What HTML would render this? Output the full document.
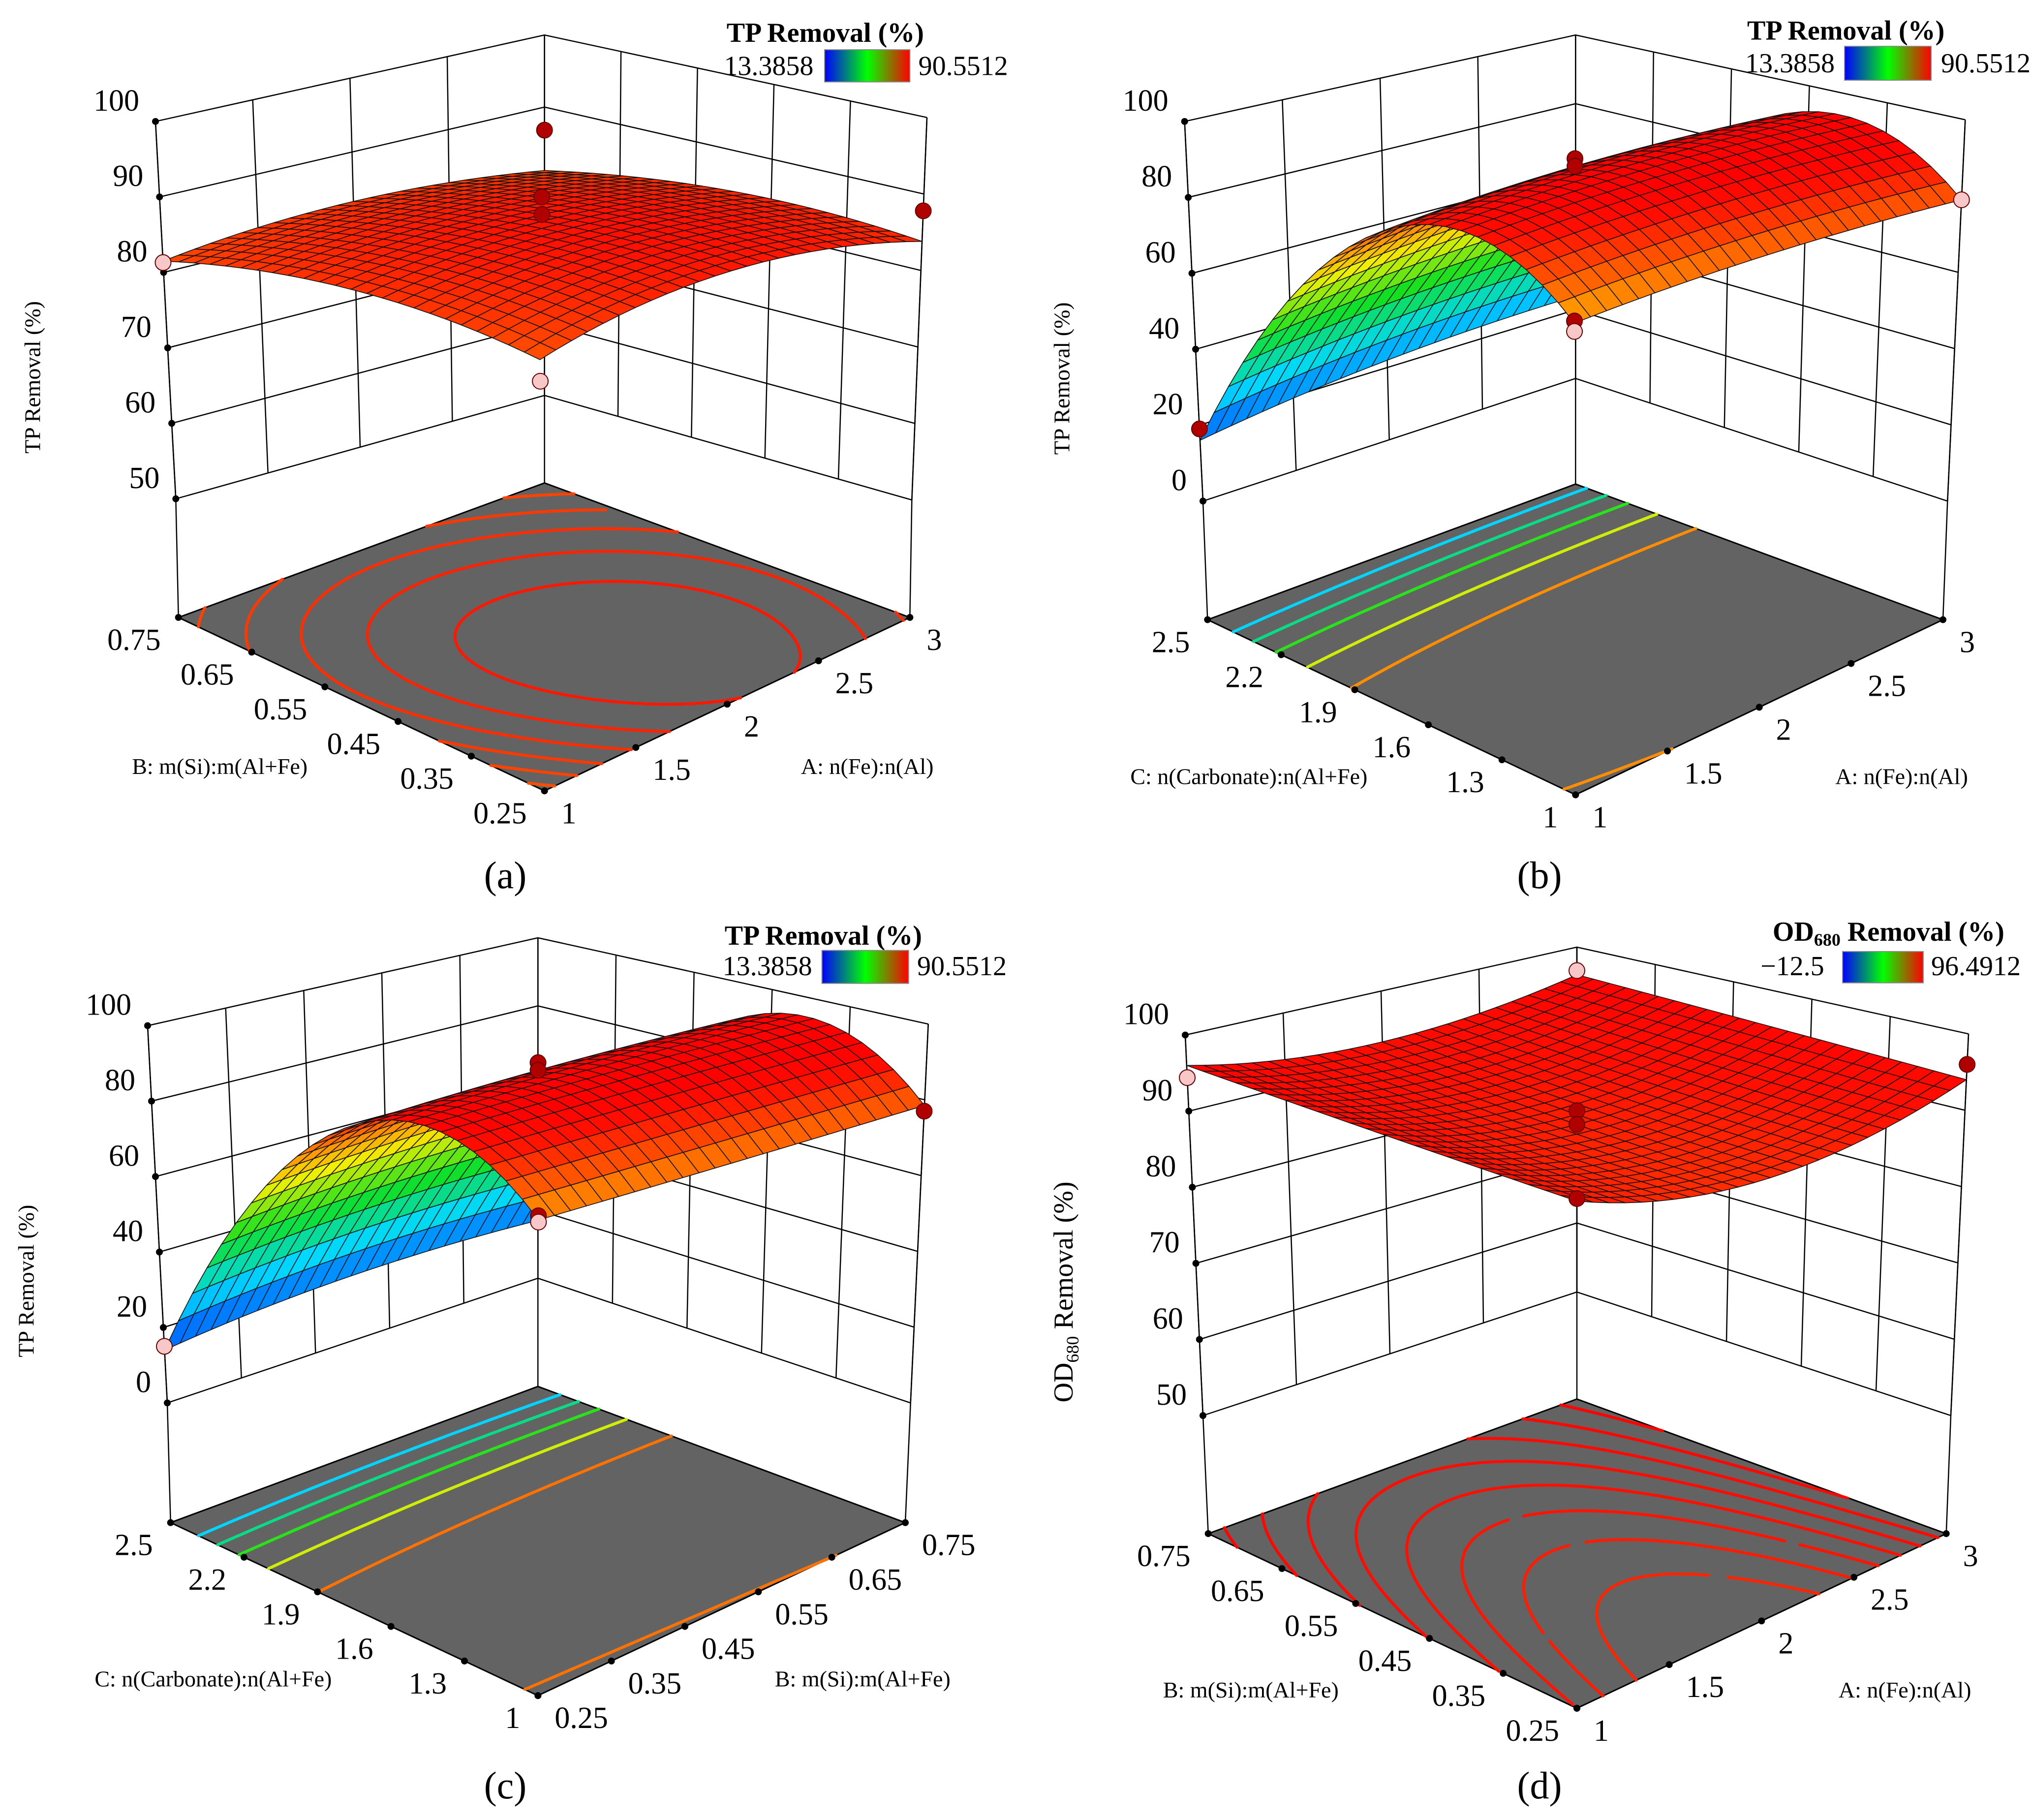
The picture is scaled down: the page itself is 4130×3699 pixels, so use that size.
<!DOCTYPE html>
<html><head><meta charset="utf-8"><title>Response surfaces</title>
<style>
html,body{margin:0;padding:0;background:#fff;}
svg{display:block;}
text{font-family:"Liberation Serif",serif;fill:#000;}
</style></head>
<body>
<svg id="chart" xmlns="http://www.w3.org/2000/svg" width="4130" height="3699" viewBox="0 0 4130 3699">
<defs>
<linearGradient id="cbar" x1="0" y1="0" x2="1" y2="0">
<stop offset="0" stop-color="#0000ff"/><stop offset="0.5" stop-color="#00ff00"/><stop offset="1" stop-color="#ff0000"/>
</linearGradient>
</defs>
<rect width="4130" height="3699" fill="#fff"/>
</svg>
<script>
// ---------- data ----------
const ticksA = [1, 1.5, 2, 2.5, 3];
const ticksB = [0.25, 0.35, 0.45, 0.55, 0.65, 0.75];
const ticksC = [1, 1.3, 1.6, 1.9, 2.2, 2.5];
const ticksZa = [50, 60, 70, 80, 90, 100];
const ticksZb = [0, 20, 40, 60, 80, 100];
const ticksZc = [0, 20, 40, 60, 80, 100];
const ticksZd = [50, 60, 70, 80, 90, 100];
// response grids: rows = right-edge factor (low, mid, high), cols = left-edge factor (low, mid, high)
const surfA = [[80.5, 83.7, 81.5], [85.9, 86.6, 83.3], [83.8, 84.5, 81.2]];
const surfB = [[72, 83, 16], [77, 88, 22], [79, 89, 24]];
const surfC = [[74, 85, 14], [76, 88, 18], [78.5, 89, 17]];
const surfD = [[90.5, 93, 96], [87.5, 89.5, 93], [94, 95, 96]];
const levelsA = [86, 85, 84, 83, 82, 81];
const levelsB = [30, 40, 50, 62, 75];
const levelsC = [30, 40, 50, 62, 77.5];
const levelsD = [88.5, 89.5, 90.5, 91.5, 92.5, 93.5, 94.5, 95.5];
// design points: [right factor, left factor, response, above(1)/below(0)]
const ptsA = [[3, 0.75, 86.8, 1], [2, 0.5, 89.8, 1], [2, 0.5, 87.5, 1], [1, 0.25, 77.8, 0], [1, 0.75, 81.3, 0], [3, 0.25, 87.8, 1]];
const ptsB = [[1, 2.5, 19, 1], [1, 1, 72.5, 1], [1, 1, 70, 0], [2, 1.75, 90, 1], [2, 1.75, 88, 1], [3, 1, 79, 0]];
const ptsC = [[0.25, 2.5, 15, 0], [0.25, 1, 75, 1], [0.25, 1, 73.5, 0], [0.5, 1.75, 90, 1], [0.5, 1.75, 88, 1], [0.75, 1, 77, 1]];
const ptsD = [[1, 0.75, 94.4, 0], [3, 0.75, 96.6, 0], [2, 0.5, 90, 1], [2, 0.5, 88.2, 1], [1, 0.25, 90.8, 1], [3, 0.25, 96, 1]];
const rangeTP = [13.3858, 90.5512];
const rangeOD = [-12.5, 96.4912];

// ---------- geometry (reference crop coords) ----------
const panels = [
 {id:'a', ox:0, oy:0, sy:0.871, L1:[237,215],K1:[830,62],R1:[1413,208],L0:[268,883],K0:[830,700],R0:[1390,885],
  fL:[272,1093],fK:[830,855],fR:[1387,1093],fF:[830,1400],
  uT:ticksA,vT:ticksB,zT:ticksZa,grid:surfA,lev:levelsA,pts:ptsA,rng:rangeTP,
  uTitle:'A: n(Fe):n(Al)',vTitle:'B: m(Si):m(Al+Fe)',uTp:[1322,1357],vTp:[335,1357],zTp:[50,668],
  leg:{title:[1258,62],bar:[1257,88,1387,145],minx:1240,maxx:1400,base:133}, lab:[1027,1805]},
 {id:'b', ox:2065, oy:0, sy:0.871, L1:[257,215],K1:[853,62],R1:[1447,212],L0:[285,887],K0:[853,670],R0:[1420,887],
  fL:[292,1097],fK:[853,857],fR:[1413,1097],fF:[853,1407],
  uT:ticksA,vT:ticksC,zT:ticksZb,grid:surfB,lev:levelsB,pts:ptsB,rng:rangeTP,
  uTitle:'A: n(Fe):n(Al)',vTitle:'C: n(Carbonate):n(Al+Fe)',uTp:[1350,1375],vTp:[355,1375],zTp:[70,670],
  leg:{title:[1265,58],bar:[1263,82,1395,142],minx:1248,maxx:1410,base:128}, lab:[3129,1805]},
 {id:'c', ox:0, oy:1800, sy:0.896, L1:[225,255],K1:[820,95],R1:[1415,252],L0:[255,942],K0:[820,715],R0:[1388,942],
  fL:[260,1160],fK:[820,912],fR:[1380,1160],fF:[820,1475],
  uT:ticksB,vT:ticksC,zT:ticksZc,grid:surfC,lev:levelsC,pts:ptsC,rng:rangeTP,
  uTitle:'B: m(Si):m(Al+Fe)',vTitle:'C: n(Carbonate):n(Al+Fe)',uTp:[1315,1445],vTp:[325,1445],zTp:[40,720],
  leg:{title:[1255,95],bar:[1253,118,1385,178],minx:1238,maxx:1398,base:163}, lab:[1027,3655]},
 {id:'d', ox:2065, oy:1800, sy:0.896, L1:[258,272],K1:[855,112],R1:[1452,270],L0:[285,965],K0:[855,740],R0:[1425,965],
  fL:[293,1180],fK:[855,935],fR:[1418,1180],fF:[855,1498],
  uT:ticksA,vT:ticksB,zT:ticksZd,grid:surfD,lev:levelsD,pts:ptsD,rng:rangeOD,
  uTitle:'A: n(Fe):n(Al)',vTitle:'B: m(Si):m(Al+Fe)',uTp:[1355,1465],vTp:[358,1465],zTp:[75,740],
  leg:{title:[1330,88],bar:[1260,120,1383,177],minx:1232,maxx:1395,base:163}, lab:[3129,3655]}
];

const NS = 'http://www.w3.org/2000/svg';
const svg = document.getElementById('chart');
function mk(tag, attrs, parent) {
  const e = document.createElementNS(NS, tag);
  for (const k in attrs) e.setAttribute(k, attrs[k]);
  (parent || svg).appendChild(e);
  return e;
}
const cmapStops = [[0,[0,64,255]],[0.22,[0,216,255]],[0.45,[16,224,32]],[0.66,[240,240,0]],[0.8,[255,140,0]],[0.95,[255,16,0]],[1,[255,0,0]]];
function cmap(t) {
  t = Math.max(0, Math.min(1, t));
  for (let i = 1; i < cmapStops.length; i++) {
    if (t <= cmapStops[i][0]) {
      const a = cmapStops[i-1], b = cmapStops[i], f = (t - a[0]) / (b[0] - a[0]);
      const c = a[1].map((x, k) => Math.round(x + (b[1][k] - x) * f));
      return 'rgb(' + c.join(',') + ')';
    }
  }
  return 'rgb(255,0,0)';
}
function lag(t) { return [2*(t-0.5)*(t-1), -4*t*(t-1), 2*t*(t-0.5)]; }
function f(g, u, v) {
  const a = lag(u), b = lag(v); let s = 0;
  for (let i = 0; i < 3; i++) for (let j = 0; j < 3; j++) s += g[i][j]*a[i]*b[j];
  return s;
}
function bil(F, R, L, K, u, v) {
  return [F[0]*(1-u)*(1-v) + R[0]*u*(1-v) + L[0]*(1-u)*v + K[0]*u*v,
          F[1]*(1-u)*(1-v) + R[1]*u*(1-v) + L[1]*(1-u)*v + K[1]*u*v];
}
function fmt(p) { return p[0].toFixed(1) + ',' + p[1].toFixed(1); }

panels.forEach(function(p) {
  const C = function(q) { return [q[0]*4/3 + p.ox, q[1]/p.sy + p.oy]; };
  const L1 = C(p.L1), K1 = C(p.K1), R1 = C(p.R1), L0 = C(p.L0), K0 = C(p.K0), R0 = C(p.R0);
  const F1 = [L1[0]+R1[0]-K1[0], L1[1]+R1[1]-K1[1]];
  const F0 = [L0[0]+R0[0]-K0[0], L0[1]+R0[1]-K0[1]];
  const fL = C(p.fL), fK = C(p.fK), fR = C(p.fR), fF = C(p.fF);
  const u0 = p.uT[0], u1 = p.uT[p.uT.length-1], v0 = p.vT[0], v1 = p.vT[p.vT.length-1];
  const z0 = p.zT[0], z1 = p.zT[p.zT.length-1];
  const U = function(x) { return (x - u0) / (u1 - u0); };
  const V = function(x) { return (x - v0) / (v1 - v0); };
  const W = function(z) { return (z - z0) / (z1 - z0); };
  const P3 = function(u, v, w) {
    const t = bil(F1, R1, L1, K1, u, v), b = bil(F0, R0, L0, K0, u, v);
    return [b[0] + (t[0]-b[0])*w, b[1] + (t[1]-b[1])*w];
  };
  const PF = function(u, v) { return bil(fF, fR, fL, fK, u, v); };
  const col = function(z) { return cmap((z - p.rng[0]) / (p.rng[1] - p.rng[0])); };

  const g = mk('g', {});
  
  

  const floor = mk('path', {d: 'M' + fmt(fF) + 'L' + fmt(fR) + 'L' + fmt(fK) + 'L' + fmt(fL) + 'Z', fill: '#636363', stroke: '#000', 'stroke-width': 3}, g);
  
  

  const M = 60;
  const vals = [];
  for (let i = 0; i <= M; i++) { vals.push([]); for (let j = 0; j <= M; j++) vals[i].push(f(p.grid, i/M, j/M)); }
  p.lev.forEach(function(lv) {
    let d = '';
    for (let i = 0; i < M; i++) for (let j = 0; j < M; j++) {
      const c = [[i, j, vals[i][j]], [i+1, j, vals[i+1][j]], [i+1, j+1, vals[i+1][j+1]], [i, j+1, vals[i][j+1]]];
      const xs = [];
      for (let k = 0; k < 4; k++) {
        const a = c[k], b = c[(k+1)%4];
        if ((a[2] - lv) * (b[2] - lv) < 0) {
          const t = (lv - a[2]) / (b[2] - a[2]);
          xs.push(PF((a[0] + (b[0]-a[0])*t)/M, (a[1] + (b[1]-a[1])*t)/M));
        }
      }
      for (let k = 0; k + 1 < xs.length; k += 2) d += 'M' + fmt(xs[k]) + 'L' + fmt(xs[k+1]);
    }
    if (d) {
      const cl = mk('path', {d: d, fill: 'none', stroke: col(lv), 'stroke-width': 6, 'stroke-linecap': 'round'}, g);
      
      
    }
  });

  const gl = {stroke: '#000', 'stroke-width': 2.5, fill: 'none'};
  p.zT.forEach(function(z) {
    const w = W(z);
    const l1 = mk('polyline', Object.assign({points: fmt(P3(0,1,w)) + ' ' + fmt(P3(1,1,w)) + ' ' + fmt(P3(1,0,w))}, gl), g);
    
    
  });
  p.uT.forEach(function(x) {
    const u = U(x);
    const l = mk('line', Object.assign({x1: P3(u,1,1)[0], y1: P3(u,1,1)[1], x2: P3(u,1,0)[0], y2: P3(u,1,0)[1]}, gl), g);
    
    
  });
  p.vT.forEach(function(x) {
    const v = V(x);
    const l = mk('line', Object.assign({x1: P3(1,v,1)[0], y1: P3(1,v,1)[1], x2: P3(1,v,0)[0], y2: P3(1,v,0)[1]}, gl), g);
    
    
  });
  [[L1, L0, fL], [K1, K0, fK], [R1, R0, fR]].forEach(function(e) {
    const l = mk('polyline', Object.assign({points: fmt(e[0]) + ' ' + fmt(e[1]) + ' ' + fmt(e[2])}, gl), g);
    
    
  });

  p.zT.forEach(function(z) {
    const q = P3(0, 1, W(z));
    const dt = mk('circle', {cx: q[0], cy: q[1], r: 7, fill: '#000'}, g);
    
    
    const t = mk('text', {x: q[0] - 33, y: q[1] - 22, 'font-size': 62, 'text-anchor': 'end'}, g);
    t.textContent = String(z);
    
    
  });
  p.vT.forEach(function(x) {
    const q = PF(0, V(x));
    const dt = mk('circle', {cx: q[0], cy: q[1], r: 7, fill: '#000'}, g);
    
    
    const t = mk('text', {x: q[0] - 36, y: q[1] + 66, 'font-size': 62, 'text-anchor': 'end'}, g);
    t.textContent = String(x);
    
    
  });
  p.uT.forEach(function(x) {
    const q = PF(U(x), 0);
    const dt = mk('circle', {cx: q[0], cy: q[1], r: 7, fill: '#000'}, g);
    
    
    const t = mk('text', {x: q[0] + 34, y: q[1] + 66, 'font-size': 62, 'text-anchor': 'start'}, g);
    t.textContent = String(x);
    
    
  });

  const N = 24, quads = [];
  for (let i = 0; i < N; i++) for (let j = 0; j < N; j++) quads.push([i, j]);
  quads.sort(function(a, b) { return (b[0] + b[1]) - (a[0] + a[1]); });
  const sg = mk('g', {stroke: '#111', 'stroke-width': 1.6, 'stroke-linejoin': 'round'}, g);
  
  
  quads.forEach(function(q) {
    const i = q[0], j = q[1];
    const cs = [[i, j], [i+1, j], [i+1, j+1], [i, j+1]].map(function(c) {
      return P3(c[0]/N, c[1]/N, W(f(p.grid, c[0]/N, c[1]/N)));
    });
    const zc = f(p.grid, (i+0.5)/N, (j+0.5)/N);
    const pa = mk('path', {d: 'M' + cs.map(fmt).join('L') + 'Z', fill: col(zc)}, sg);
    
    
  });

  p.pts.forEach(function(d) {
    const q = P3(U(d[0]), V(d[1]), W(d[2]));
    const c = mk('circle', {cx: q[0], cy: q[1], r: 16, fill: d[3] ? '#b00000' : '#f8c8c8', stroke: '#600', 'stroke-width': 2}, g);
    
    
  });

  const ut = C(p.uTp), vt = C(p.vTp), zt = C(p.zTp);
  const t1 = mk('text', {x: ut[0], y: ut[1] + 15, 'font-size': 46, 'text-anchor': 'middle'}, g);
  t1.textContent = p.uTitle;
  
  
  const t2 = mk('text', {x: vt[0], y: vt[1] + 15, 'font-size': 46, 'text-anchor': 'middle'}, g);
  t2.textContent = p.vTitle;
  
  
  const t3 = mk('text', {x: zt[0] + 15, y: zt[1], 'font-size': p.id === 'd' ? 56 : 46, 'text-anchor': 'middle', transform: 'rotate(-90 ' + (zt[0] + 15) + ' ' + zt[1] + ')'}, g);
  if (p.id === 'd') {
    t3.textContent = 'OD';
    const s = mk('tspan', {'font-size': 36, dy: 12}, t3); s.textContent = '680';
    const s2 = mk('tspan', {dy: -12}, t3); s2.textContent = ' Removal (%)';
  } else {
    t3.textContent = 'TP Removal (%)';
  }
  
  

  const lg = p.leg, tp = C(lg.title), b0 = C([lg.bar[0], lg.bar[1]]), b1 = C([lg.bar[2], lg.bar[3]]);
  const lt = mk('text', {x: tp[0], y: tp[1] + 14, 'font-size': 56, 'font-weight': 'bold', 'text-anchor': 'middle'}, g);
  if (p.id === 'd') {
    lt.textContent = 'OD';
    const s = mk('tspan', {'font-size': 36, dy: 10}, lt); s.textContent = '680';
    const s2 = mk('tspan', {dy: -10}, lt); s2.textContent = ' Removal (%)';
  } else {
    lt.textContent = 'TP Removal (%)';
  }
  
  
  const bar = mk('rect', {x: b0[0], y: b0[1], width: b1[0]-b0[0], height: b1[1]-b0[1], fill: 'url(#cbar)', stroke: '#888', 'stroke-width': 2}, g);
  
  
  const by = C([0, lg.base])[1];
  const mn = mk('text', {x: C([lg.minx, 0])[0], y: by, 'font-size': 56, 'text-anchor': 'end'}, g);
  mn.textContent = p.id === 'd' ? '\u221212.5' : '13.3858';
  
  
  const mx = mk('text', {x: C([lg.maxx, 0])[0], y: by, 'font-size': 56, 'text-anchor': 'start'}, g);
  mx.textContent = p.id === 'd' ? '96.4912' : '90.5512';
  
  

  const pl = mk('text', {x: p.lab[0], y: p.lab[1], 'font-size': 78, 'text-anchor': 'middle'}, g);
  pl.textContent = '(' + p.id + ')';
  
  
});
</script>
</body></html>
